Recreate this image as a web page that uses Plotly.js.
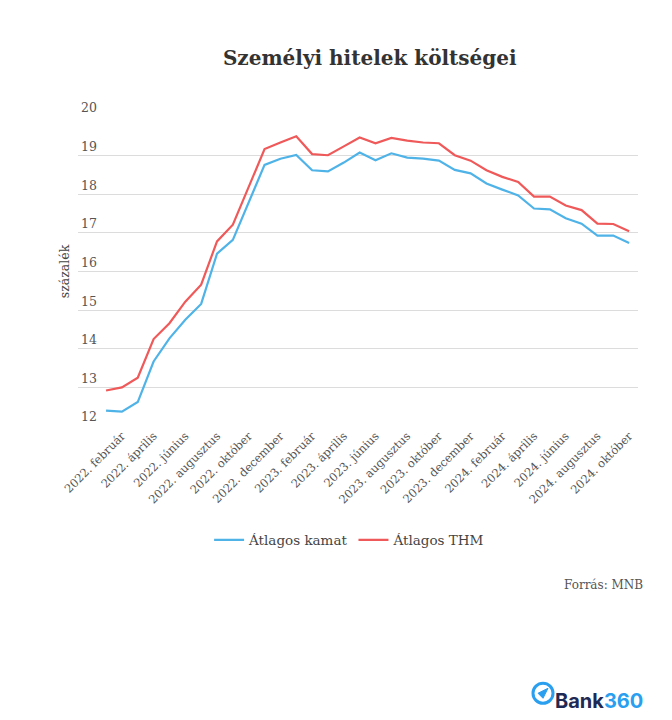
<!DOCTYPE html>
<html>
<head>
<meta charset="utf-8">
<script src="https://cdn.plot.ly/plotly-3.0.1.min.js"></script>
<style>html,body{margin:0;padding:0;background:#fff;}#chart{width:672px;height:720px;}</style>
</head>
<body>
<div id="chart"></div>
<script>
const months = [
  "2022. január","2022. február","2022. március","2022. április","2022. május","2022. június",
  "2022. július","2022. augusztus","2022. szeptember","2022. október","2022. november","2022. december",
  "2023. január","2023. február","2023. március","2023. április","2023. május","2023. június",
  "2023. július","2023. augusztus","2023. szeptember","2023. október","2023. november","2023. december",
  "2024. január","2024. február","2024. március","2024. április","2024. május","2024. június",
  "2024. július","2024. augusztus","2024. szeptember","2024. október"
];
const atlagosKamat = [
  12.40, 12.37, 12.62, 13.67, 14.27, 14.75, 15.16, 16.46, 16.82, 17.80,
  18.76, 18.92, 19.02, 18.62, 18.59, 18.82, 19.08, 18.88, 19.06, 18.95,
  18.92, 18.87, 18.63, 18.54, 18.28, 18.12, 17.97, 17.63, 17.61, 17.38,
  17.24, 16.93, 16.93, 16.74
];
const atlagosTHM = [
  12.92, 13.00, 13.25, 14.25, 14.66, 15.22, 15.66, 16.78, 17.21, 18.20,
  19.17, 19.34, 19.50, 19.04, 19.01, 19.24, 19.47, 19.32, 19.46, 19.39,
  19.34, 19.32, 19.01, 18.87, 18.62, 18.45, 18.32, 17.94, 17.94, 17.71,
  17.59, 17.24, 17.23, 17.04
];
const tickLabels = months.filter((m, i) => i % 2 === 1);
const yTicks = [12, 13, 14, 15, 16, 17, 18, 19, 20];

const serif = "DejaVu Serif, serif";
const traces = [
  {x: months, y: atlagosKamat, type: "scatter", mode: "lines", name: "Átlagos kamat",
   line: {color: "#4fb3e8", width: 2.2}},
  {x: months, y: atlagosTHM, type: "scatter", mode: "lines", name: "Átlagos THM",
   line: {color: "#ef5959", width: 2.2}}
];
const layout = {
  width: 672, height: 720,
  margin: {l: 78, r: 34, t: 117, b: 294},
  paper_bgcolor: "#fff", plot_bgcolor: "#fff",
  showlegend: true,
  title: {text: "<b>Személyi hitelek költségei</b>", font: {family: serif, size: 20, color: "#333"},
          xref: "paper", x: 0.521, xanchor: "center", yref: "container", y: 0.919, yanchor: "middle"},
  xaxis: {type: "category", range: [-1.77, 33.56], tickvals: tickLabels, ticktext: tickLabels,
          tickangle: -45, tickfont: {family: serif, size: 11.5, color: "#555"},
          showgrid: false, zeroline: false, showline: false, ticks: "", fixedrange: true},
  yaxis: {range: [12, 20], tickvals: yTicks, ticklabelposition: "inside", ticklabelshift: -9,
          ticklabelstandoff: 0, ticklabeloverflow: "allow",
          tickfont: {family: serif, size: 12.5, color: "#555"},
          gridcolor: "#dcdcdc", gridwidth: 1, zeroline: false, showline: false, ticks: "",
          title: {text: "százalék", font: {family: serif, size: 12.5, color: "#444"}, standoff: 8}},
  legend: {orientation: "h", x: 0.485, xanchor: "center", xref: "paper", y: -0.369, yanchor: "middle",
           font: {family: serif, size: 13.5, color: "#444"}, itemwidth: 30, tracegroupgap: 10},
  annotations: [
    {text: "Forrás: MNB", xref: "paper", yref: "paper", x: 1.0125, y: -0.515, xanchor: "right", yanchor: "middle",
     showarrow: false, font: {family: serif, size: 12, color: "#555"}},
    {text: "<b>Bank<span style='color:#2a9ff0'>360</span></b>", xref: "paper", yref: "paper",
     x: 1.0125, y: -0.89, xanchor: "right", yanchor: "middle", showarrow: false,
     font: {family: "Inter, Roboto, sans-serif", size: 20, color: "#1e2a55"}}
  ],
  shapes: [
    {type: "circle", xref: "paper", yref: "paper",
     x0: (533 - 78) / 560, x1: (553 - 78) / 560, y0: (426 - 703) / 308.7, y1: (426 - 683) / 308.7,
     line: {color: "#2a9ff0", width: 3}},
    {type: "path", xref: "paper", yref: "paper",
     path: "M " + ((538 - 78) / 560) + " " + ((426 - 693) / 308.7) + " L " + ((548 - 78) / 560) + " " + ((426 - 688) / 308.7) +
           " L " + ((543 - 78) / 560) + " " + ((426 - 698) / 308.7) + " Z",
     fillcolor: "#2a9ff0", line: {color: "#2a9ff0", width: 1}}
  ]
};
Plotly.newPlot("chart", traces, layout, {displayModeBar: false, staticPlot: true});
</script>
</body>
</html>
